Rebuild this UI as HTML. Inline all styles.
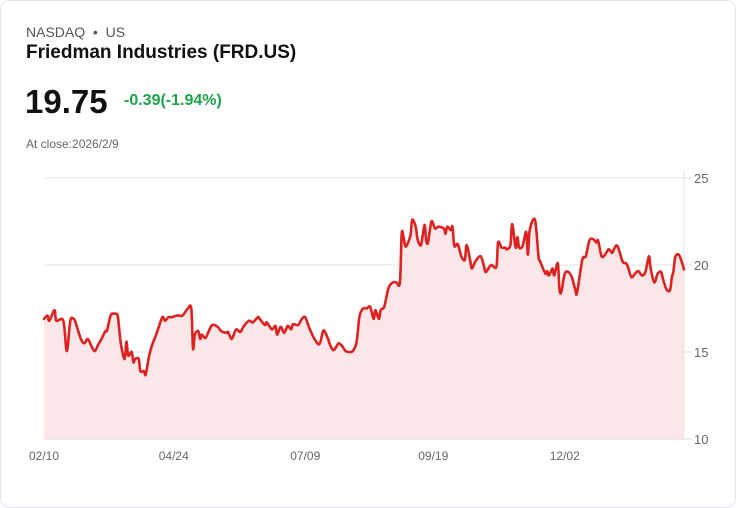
<!DOCTYPE html>
<html><head><meta charset="utf-8"><style>
body{margin:0;background:#fff;font-family:"Liberation Sans",sans-serif;}
.card{position:absolute;left:0;top:0;width:734px;height:506px;border:1px solid #e3e5ea;border-radius:10px;background:#fff;}
.t{position:absolute;white-space:nowrap;}
</style></head><body>
<div class="card">
<div class="t" style="left:25px;top:23px;font-size:14px;color:#555;">NASDAQ &nbsp;•&nbsp; US</div>
<div class="t" style="left:25px;top:41px;font-size:19px;font-weight:bold;color:#111;">Friedman Industries (FRD.US)</div>
<div class="t" style="left:24px;top:82px;font-size:33px;font-weight:bold;color:#111;">19.75</div>
<div class="t" style="left:123px;top:91px;font-size:16px;font-weight:bold;color:#1fa34a;">-0.39(-1.94%)</div>
<div class="t" style="left:25px;top:136px;font-size:12px;color:#666;">At close:2026/2/9</div>
<svg id="chart" width="736" height="508" style="position:absolute;left:-1px;top:-1px;"></svg>
</div>
<script>
const days=[0,2,3,6,7,11,13,15,17,18,21,23,25,27,29,31,32,34,35,36,38,40,42,43,44,46,47,48,50,51,52,54,55,57,58,60,62,64,67,68,69,71,73,76,79,82,84,85,86,88,89,90,92,94,96,99,101,104,105,107,109,110,112,114,117,119,122,123,126,127,130,132,133,135,137,139,141,142,145,147,149,151,154,157,159,160,162,163,165,167,168,170,172,174,176,178,179,180,182,184,186,188,189,191,192,194,196,197,199,201,203,204,205,206,207,209,210,212,213,215,217,218,219,221,223,225,228,229,230,232,233,234,236,238,240,241,243,244,246,249,251,252,255,258,259,261,263,264,266,267,269,270,271,273,275,276,277,280,282,283,286,287,288,290,291,293,294,295,297,299,301,303,304,307,309,311,313,315,316,318,320,322,324,325,327,330,332,333,335,337,339,341,343,345,346,348,350,352,353,355,357,358,359,360,362,364,365];
const prices=[16.9,17.1,16.8,17.4,16.8,16.8,15.05,16.8,16.9,16.7,15.75,15.5,15.75,15.35,15.05,15.45,15.6,16.0,16.2,16.25,17.1,17.2,17.1,16.2,15.35,14.6,15.6,14.8,15.0,14.4,14.6,14.6,13.9,13.9,13.7,14.8,15.5,16.0,16.9,17.0,16.8,17.0,17.0,17.1,17.1,17.5,17.5,15.2,16.0,16.2,15.75,16.0,15.8,16.2,16.55,16.45,16.2,16.1,16.15,15.75,16.2,16.3,16.15,16.5,16.8,16.7,17.0,16.9,16.55,16.7,16.3,16.5,16.0,16.45,16.1,16.5,16.3,16.6,16.55,16.9,17.0,16.45,15.8,15.45,16.15,16.2,15.75,15.45,15.1,15.35,15.5,15.35,15.05,15.0,15.05,15.45,16.2,17.1,17.5,17.5,17.6,16.9,17.4,16.9,17.4,17.6,18.5,18.8,19.0,19.0,19.0,21.8,21.6,21.1,21.15,21.7,22.6,22.2,21.5,21.15,22.3,21.4,21.3,22.5,22.1,22.2,22.1,21.8,22.2,22.0,22.2,21.1,21.2,20.5,20.3,21.15,20.3,19.8,20.2,20.5,19.9,19.6,20.0,19.9,21.3,21.0,21.0,20.9,21.15,22.35,21.0,21.6,21.0,21.1,21.9,20.6,22.0,22.6,20.5,20.2,19.5,19.65,19.4,19.8,19.4,20.1,18.6,18.45,19.5,19.6,19.3,18.6,18.4,20.3,20.5,21.4,21.5,21.3,21.4,20.5,20.6,20.9,20.7,20.9,21.1,20.2,20.1,19.9,19.3,19.5,19.65,19.4,19.6,20.5,19.8,19.0,19.5,19.6,19.2,18.6,18.55,19.25,19.65,20.45,20.6,20.1,19.75];
const yTicks=[25,20,15,10];
const xTickLabels=["02/10","04/24","07/09","09/19","12/02"];
const xTickDays=[0,74,149,222,297];
const X0=44,X1=684,Y0=439,Y1=178,DMAX=365,PMIN=10,PMAX=25;
const sx=d=>X0+(d/DMAX)*(X1-X0);
const sy=p=>Y0-(p-PMIN)/(PMAX-PMIN)*(Y0-Y1);
const svg=document.getElementById('chart');
const NS='http://www.w3.org/2000/svg';
function mk(t,a){const e=document.createElementNS(NS,t);for(const k in a)e.setAttribute(k,a[k]);svg.appendChild(e);return e;}
yTicks.forEach(v=>{
 const g=mk('line',{x1:X0,x2:X1,y1:sy(v),y2:sy(v),stroke:v===PMIN?'#cfcfcf':'#e6e6e6','stroke-width':1});
 
 
 mk('line',{x1:X1,x2:X1+8,y1:sy(v),y2:sy(v),stroke:'#dcdcdc'});
 const t=mk('text',{x:X1+10,y:sy(v)+5,'font-size':13,fill:'#666','font-family':'Liberation Sans, sans-serif'});
 t.textContent=v;
 
 
});
const ax=mk('line',{x1:X1,x2:X1,y1:170,y2:Y0,stroke:'#e3e3e3'});


xTickLabels.forEach((l,i)=>{
 const t=mk('text',{x:sx(xTickDays[i]),y:460,'font-size':12,fill:'#666','text-anchor':'middle','font-family':'Liberation Sans, sans-serif'});
 t.textContent=l;
 
 
});
const P=days.map((dd,i)=>[sx(dd),sy(prices[i])]);
let d='M'+P[0][0].toFixed(1)+' '+P[0][1].toFixed(1);
for(let i=0;i<P.length-1;i++){
 const p0=P[Math.max(0,i-1)],p1=P[i],p2=P[i+1],p3=P[Math.min(P.length-1,i+2)];
 const k=0.16;
 const c1=[p1[0]+(p2[0]-p0[0])*k,p1[1]+(p2[1]-p0[1])*k];
 const c2=[p2[0]-(p3[0]-p1[0])*k,p2[1]-(p3[1]-p1[1])*k];
 d+=`C${c1[0].toFixed(1)} ${c1[1].toFixed(1)} ${c2[0].toFixed(1)} ${c2[1].toFixed(1)} ${p2[0].toFixed(1)} ${p2[1].toFixed(1)}`;
}
const area=mk('path',{d:d+`L${sx(days[days.length-1])} ${Y0}L${sx(days[0])} ${Y0}Z`,fill:'#fbe7e7'});


const line=mk('path',{d:d,fill:'none',stroke:'#dd2222','stroke-width':2.6,'stroke-linejoin':'round','stroke-linecap':'round'});


</script>
</body></html>
